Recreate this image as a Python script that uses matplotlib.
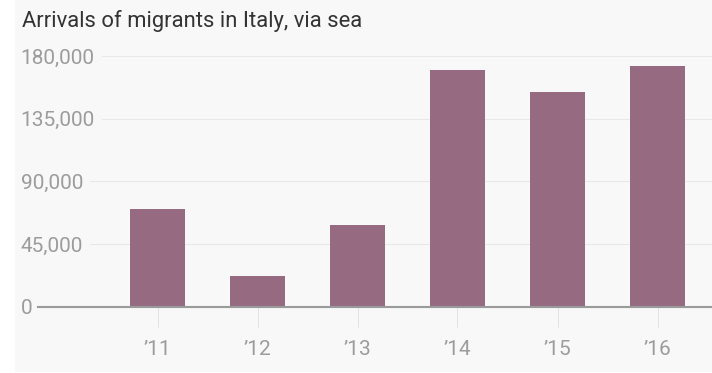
import matplotlib
matplotlib.use('Agg')
import matplotlib.pyplot as plt
from matplotlib import font_manager
from matplotlib.transforms import blended_transform_factory, ScaledTranslation
from matplotlib.patches import Rectangle
from matplotlib.lines import Line2D

years = ["\u201911", "\u201912", "\u201913", "\u201914", "\u201915", "\u201916"]
arrivals = [70000, 22000, 59000, 170000, 154000, 173000]
yticks = [0, 45000, 90000, 135000, 180000]
ytick_labels = ["0", "45,000", "90,000", "135,000", "180,000"]
title = "Arrivals of migrants in Italy, via sea"

available = {f.name for f in font_manager.fontManager.ttflist}


def pick(*names):
    for n in names:
        if n in available:
            return n
    return 'DejaVu Sans'


title_font = pick('Roboto', 'Lato', 'DejaVu Sans')
tick_font = pick('Roboto', 'Lato', 'DejaVu Sans')
tick_size = 15.0
tick_color = '#9c9c9c'

W, H = 712, 373
fig = plt.figure(figsize=(W / 100, H / 100), dpi=100)
fig.patch.set_facecolor('white')
fig.patches.append(Rectangle((15 / W, 1 / H), (W - 15) / W, 372 / H,
                             transform=fig.transFigure, facecolor='#f8f8f8',
                             edgecolor='none', zorder=-10))

y0 = 306.7
ytop = 56.0
ax = fig.add_axes([38 / W, 1 - y0 / H, 1 - 38 / W, (y0 - ytop) / H])
ax.set_facecolor('none')
ax.set_zorder(2)
xpos = list(range(len(years)))
ax.bar(xpos, arrivals, width=0.55, color='#966b82', zorder=3)
ax.set_xlim(-1.195, 5.545)
ax.set_ylim(0, 180000)
for s in ax.spines.values():
    s.set_visible(False)
ax.axhline(0, color='#9a9a9a', lw=1.5, zorder=4, clip_on=False)
ax.set_yticks([])
ax.set_xticks(xpos)
ax.set_xticklabels(years, fontfamily=tick_font, fontsize=tick_size,
                   color=tick_color)
ax.tick_params(axis='x', length=14.4, width=0.72, color='#e2e2e2', pad=9.5)

trans = blended_transform_factory(fig.transFigure, ax.transData)
off = ScaledTranslation(0, -7.6 / 100, fig.dpi_scale_trans)
texts = []
for v, lab in zip(yticks, ytick_labels):
    t = ax.text(20.7 / W, v, lab, transform=trans + off, ha='left', va='baseline',
                fontfamily=tick_font, fontsize=tick_size,
                color=tick_color, clip_on=False)
    texts.append((v, t))

fig.text(21.7 / W, 1 - 27.5 / H, title, ha='left', va='baseline',
         fontfamily=title_font, fontsize=15.8, color='#333333')

fig.canvas.draw()
r = fig.canvas.get_renderer()
for v, t in texts:
    if v == 0:
        continue
    bb = t.get_window_extent(r)
    yf = ax.transData.transform((0, v))[1] / H
    ln = Line2D([(bb.x1 + 7) / W, 1], [yf, yf], transform=fig.transFigure,
                color='#e8e8e8', lw=0.8)
    ln.set_zorder(-5)
    fig.add_artist(ln)

fig.savefig('out.png', dpi=100)
